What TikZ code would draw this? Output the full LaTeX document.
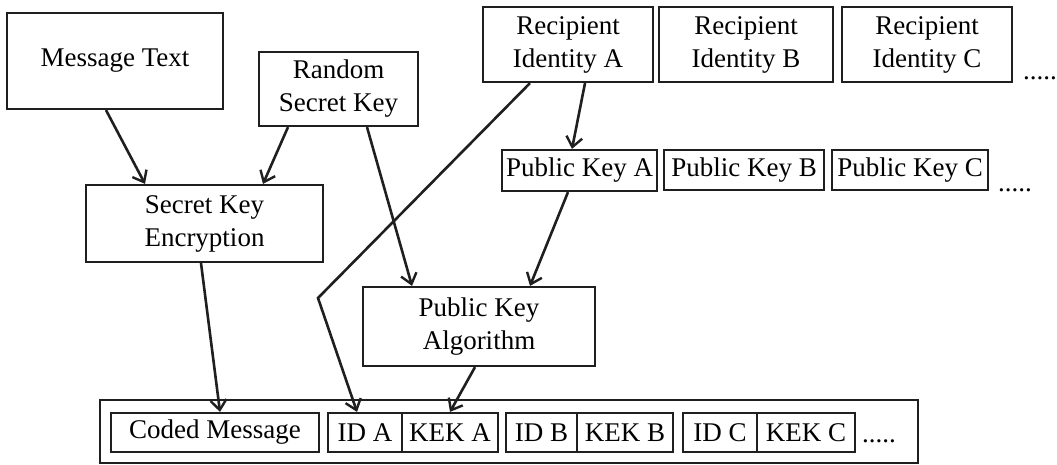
\documentclass[tikz,border=0pt]{standalone}
\usepackage{fontspec}
\setmainfont{Liberation Serif}
\usetikzlibrary{arrows.meta}
\tikzset{
  box/.style={draw=black!88, line width=2.2pt, inner sep=0pt, align=center,
    font=\fontsize{27}{33}\selectfont},
  conn/.style={draw=black!88, line width=2.6pt, -{Straight Barb[length=10pt,width=16pt,line width=2.4pt]}},
  dots/.style={inner sep=0pt, font=\fontsize{27}{33}\selectfont}
}
\begin{document}
\begin{tikzpicture}[x=1pt,y=-1pt]
\useasboundingbox (0,0) rectangle (1057,465);
% top row
\node[box, minimum width=216pt, minimum height=96pt] (msg) at (115,61) {Message Text};
\node[box, minimum width=159pt, minimum height=74pt] (rnd) at (338.5,89) {Random\\Secret Key};
\node[box, minimum width=170pt, minimum height=75pt] (reca) at (568,44.5) {Recipient\\Identity A};
\node[box, minimum width=174pt, minimum height=75pt] (recb) at (746,44.5) {Recipient\\Identity B};
\node[box, minimum width=170pt, minimum height=75pt] (recc) at (927,44.5) {Recipient\\Identity C};
\node[dots, anchor=base west] (d1) at (1023,80) {.....};
% public keys
\node[box, minimum width=155pt, minimum height=41pt] (pka) at (579.5,170.5) {Public Key A};
\node[box, minimum width=160pt, minimum height=40pt] (pkb) at (744,170) {Public Key B};
\node[box, minimum width=156pt, minimum height=40pt] (pkc) at (910,170) {Public Key C};
\node[dots, anchor=base west] (d2) at (998,192) {.....};
% middle
\node[box, minimum width=237pt, minimum height=77pt] (ske) at (204.5,223.5) {Secret Key\\Encryption};
\node[box, minimum width=232pt, minimum height=79pt] (alg) at (479,326.5) {Public Key\\Algorithm};
% bottom record
\node[box, minimum width=818pt, minimum height=63pt] (outer) at (509,431.5) {};
\node[box, minimum width=208pt, minimum height=39pt] (coded) at (215,432.5) {Coded Message};
\node[box, minimum width=74pt, minimum height=39pt] (ida) at (365,432.5) {ID A};
\node[box, minimum width=96pt, minimum height=39pt] (keka) at (450,432.5) {KEK A};
\node[box, minimum width=71pt, minimum height=39pt] (idb) at (541.5,432.5) {ID B};
\node[box, minimum width=96pt, minimum height=39pt] (kekb) at (625,432.5) {KEK B};
\node[box, minimum width=74pt, minimum height=39pt] (idc) at (720,432.5) {ID C};
\node[box, minimum width=98pt, minimum height=39pt] (kekc) at (806,432.5) {KEK C};
\node[dots, anchor=base west] (d3) at (862,442) {.....};
% connectors
\coordinate (bend) at (318,298);
\draw[conn] ([xshift=-9pt]msg.south) -- ([xshift=-59.5pt]ske.north);
\draw[conn] ([xshift=-50.5pt]rnd.south) -- ([xshift=58.5pt]ske.north);
\draw[conn] ([xshift=28.5pt]rnd.south) -- ([xshift=-67pt]alg.north);
\draw[conn] ([xshift=17pt]reca.south) -- ([xshift=-7.5pt]pka.north);
\draw[conn] ([xshift=-11.5pt]pka.south) -- ([xshift=51pt]alg.north);
\draw[conn] ([xshift=-3.5pt]ske.south) -- ([xshift=5pt]coded.north);
\draw[conn] ([xshift=-38pt]reca.south) -- (bend) -- ([xshift=-8pt]ida.north);
\draw[conn] ([xshift=-4pt]alg.south) -- (keka.north);
\end{tikzpicture}
\end{document}
